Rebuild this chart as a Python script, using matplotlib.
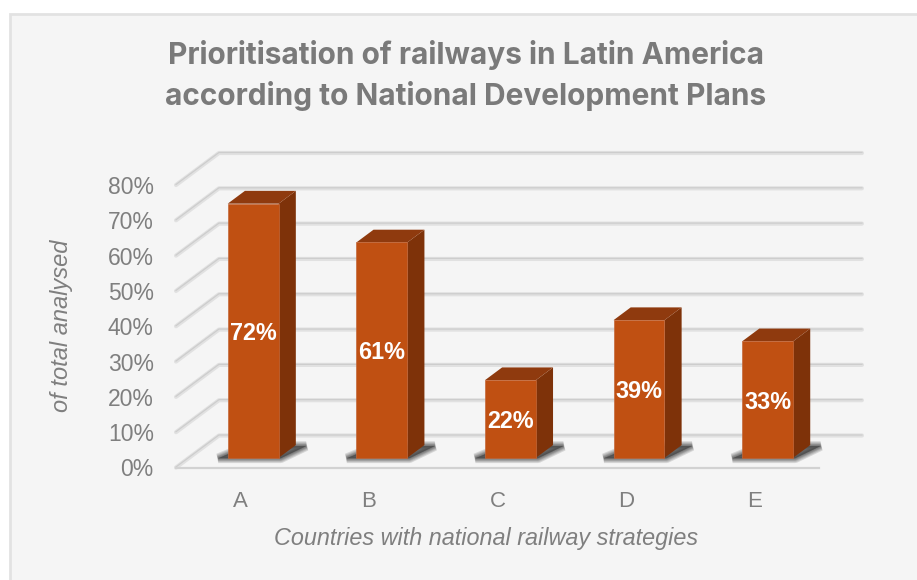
import matplotlib.pyplot as plt
from matplotlib.patches import Polygon, Rectangle

# Chart data
countries = ["A", "B", "C", "D", "E"]
shares = [72, 61, 22, 39, 33]
share_ticks = [0, 10, 20, 30, 40, 50, 60, 70, 80]

# Oblique 3D look: how far a point moves when it goes from front to back wall
DEPTH_X = 0.334
DEPTH_Y = 9.06
BAR_FRONT = 0.30
BAR_BACK = 0.70
HALF_WIDTH = 0.198

ORANGE = "#c05012"
SIDE = "#7e3209"
TOP = "#8f3a0e"
GREY = "#7f7f7f"


def project(x, y, depth):
    return (x + depth * DEPTH_X, y + depth * DEPTH_Y)


W, H = 917, 580
plt.rcParams["font.family"] = ["Liberation Sans", "DejaVu Sans"]
fig = plt.figure(figsize=(W / 100, H / 100), dpi=100, facecolor="white")

# chart panel, runs off the right and bottom edges
fig.add_artist(Rectangle((10 / W, -0.02), 1, 1 + 0.02 - 14 / H, transform=fig.transFigure,
                         facecolor="#f5f5f5", edgecolor="#e2e2e2", linewidth=2, zorder=-1))

ax = fig.add_axes([176 / W, 1 - 467.5 / H, 643 / W, 282.5 / H])
ax.set_xlim(-0.5, 4.5)
ax.set_ylim(0, 80)
ax.patch.set_visible(False)
for s in ax.spines.values():
    s.set_visible(False)

# back wall and side wall gridlines
for t in share_ticks:
    x0, y0 = project(-0.5, t, 0)
    x1, y1 = project(-0.5, t, 1)
    x2, y2 = project(4.5, t, 1)
    ax.plot([x0, x1, x2], [y0, y1, y2], color="#e1e1e1", lw=3.0, clip_on=False, zorder=1,
            solid_capstyle="round", solid_joinstyle="round")
    ax.plot([x0, x1, x2], [y0 + 0.15, y1 + 0.15, y2 + 0.15], color="#cdcdcd", lw=0.9, clip_on=False, zorder=1.1)

# floor front edge
ax.plot([-0.5, 4.5], [0, 0], color="#d2d2d2", lw=1.6, clip_on=False, zorder=1.2)

for i, v in enumerate(shares):
    l, r = i - HALF_WIDTH, i + HALF_WIDTH

    # soft shadow on the floor, built from stacked translucent outlines
    shadow = [project(l - 0.07, 0, 0.29), project(r + 0.02, 0, 0.29),
              project(r + 0.09, 0, 0.67), project(l + 0.03, 0, 0.67)]
    for lw in [7, 5.5, 4, 3, 2, 1]:
        ax.add_patch(Polygon(shadow, closed=True, facecolor="#3f3f3f", edgecolor="#3f3f3f",
                             linewidth=lw, alpha=0.17, joinstyle="bevel", clip_on=False, zorder=2))

    # front face comes from the axes' bar call, shifted into the bar plane
    fx, fy = project(i, 0, BAR_FRONT)
    ax.bar(fx, v, width=2 * HALF_WIDTH, bottom=fy, color=ORANGE, edgecolor="#c4683a",
           linewidth=0.5, clip_on=False, zorder=4)

    # side and top faces
    side = [project(r, 0, BAR_FRONT), project(r, 0, BAR_BACK),
            project(r, v, BAR_BACK), project(r, v, BAR_FRONT)]
    top = [project(l, v, BAR_FRONT), project(r, v, BAR_FRONT),
           project(r, v, BAR_BACK), project(l, v, BAR_BACK)]
    ax.add_patch(Polygon(side, closed=True, facecolor=SIDE, edgecolor="none", clip_on=False, zorder=3))
    ax.add_patch(Polygon(top, closed=True, facecolor=TOP, edgecolor="none", clip_on=False, zorder=3))

    ax.text(fx, fy + v / 2, f"{v}%", color="white", fontsize=16.8, fontweight="bold",
            ha="center", va="center_baseline", zorder=5)

ax.set_xticks(range(len(countries)), countries)
ax.set_yticks(share_ticks, [f"{t}%" for t in share_ticks])
ax.tick_params(axis="x", length=0, pad=17, labelsize=16, labelcolor=GREY)
ax.tick_params(axis="y", length=0, pad=16, labelsize=16.5, labelcolor=GREY)
for lab in ax.get_yticklabels():
    lab.set_verticalalignment("center_baseline")

ax.set_xlabel("Countries with national railway strategies", fontsize=16.8, style="italic", color=GREY)
ax.xaxis.set_label_coords(0.482, -0.212)
ax.set_ylabel("of total analysed", fontsize=17, style="italic", color=GREY)
ax.yaxis.set_label_coords(-0.16, 0.5)

fig.text(466 / W, 1 - 75.5 / H, "Prioritisation of railways in Latin America\naccording to National Development Plans",
         fontsize=21.5, fontweight="bold", family="Inter", color="#7a7a7a", ha="center", va="center", linespacing=1.43)

fig.savefig("out.png", dpi=100)
